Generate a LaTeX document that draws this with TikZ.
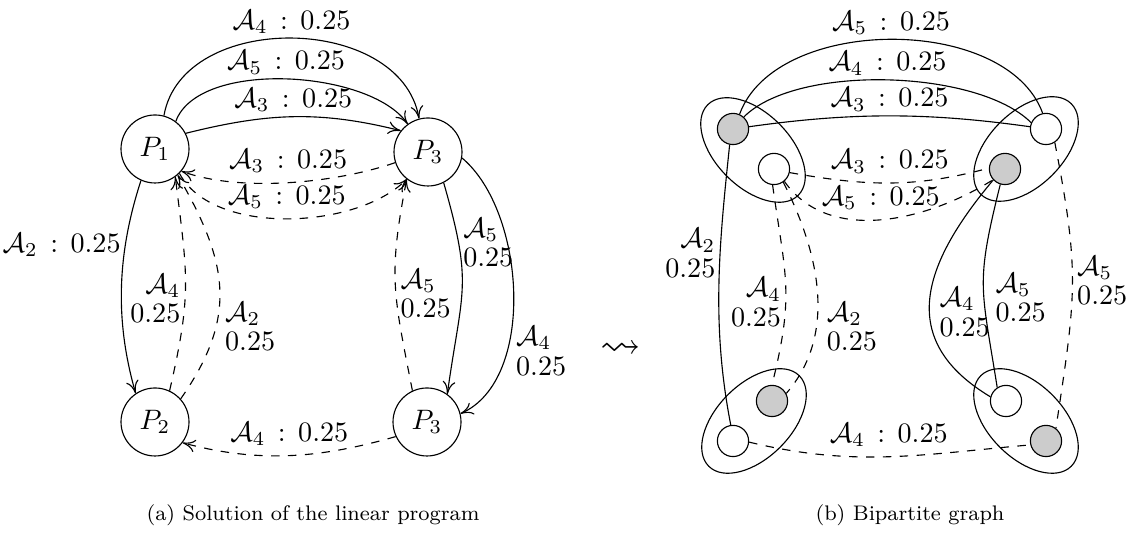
\documentclass[tikz,border=0pt]{standalone}
\usepackage{amsmath,amssymb}
\usetikzlibrary{arrows,arrows.meta,shapes.geometric}
\definecolor{busygray}{RGB}{204,204,204}

\begin{document}
\begin{tikzpicture}[x=0.125mm,y=0.125mm, >={To[length=4.5pt,width=4.5pt]},
    proc/.style={draw, circle, minimum size=8.5mm, inner sep=0pt},
    task/.style={draw, circle, fill=white, minimum size=3.9mm, inner sep=0pt},
    busy/.style={task, fill=busygray},
    pair/.style={draw, ellipse, minimum width=16mm, minimum height=9.25mm, inner sep=0pt},
    top/.style={above, inner sep=1.5pt},
    lbl/.style={inner sep=1.5pt, align=left},
    lblr/.style={inner sep=1.5pt, align=right}]
\useasboundingbox (0,0) rectangle (1133,556);

\node[proc] (p1)  at (155,407) {$P_1$};
\node[proc] (p3t) at (428,404) {$P_3$};
\node[proc] (p2)  at (155,134) {$P_2$};
\node[proc] (p3b) at (427,134) {$P_3$};

\draw[->] (p1.75) to[out=80,in=100,looseness=1.07] node[top] {$\mathcal{A}_4\,:\,0.25$} (p3t.105);
\draw[->] (p1.53) to[out=70,in=125,looseness=0.73] node[top] {$\mathcal{A}_5\,:\,0.25$} (p3t.126);
\draw[->] (p1.27) to[out=14,in=166,looseness=1]    node[top] {$\mathcal{A}_3\,:\,0.25$} (p3t.142);
\draw[->,dashed] (p3t.198) to[out=199,in=340,looseness=0.75] node[above] {$\mathcal{A}_3\,:\,0.25$} (p1.320);
\draw[->,dashed] (p1.-45)  to[out=-62,in=225,looseness=0.8] node[above] {$\mathcal{A}_5\,:\,0.25$} (p3t.232);
\draw[->] (p1.246) to[out=252,in=106,looseness=0.92] node[left,pos=.3,inner sep=1.5pt] {$\mathcal{A}_2\,:\,0.25$} (p2.124);
\draw[->,dashed] (p2.65) to[out=77,in=277,looseness=1.2] node[lblr,left,pos=.42] {$\mathcal{A}_4$\\[-1.5pt]$0.25$} (p1.306);
\draw[->,dashed] (p2.42) to[out=55,in=300,looseness=1.15] node[lbl,right,pos=.32,inner sep=3pt] {$\mathcal{A}_2$\\[-1.5pt]$0.25$} (p1.311);
\draw[->,dashed] (p3b.115) to[out=101,in=259,looseness=1.2] node[lbl,right,pos=.45] {$\mathcal{A}_5$\\[-1.5pt]$0.25$} (p3t.232);
\draw[->] (p3t.297) to[out=-74,in=82,looseness=1.3]  node[lbl,right,pos=.24] {$\mathcal{A}_5$\\[-1.5pt]$0.25$} (p3b.54);
\draw[->] (p3t.-10) to[out=-40,in=24,looseness=0.83] node[lbl,right,pos=.69,inner sep=3pt] {$\mathcal{A}_4$\\[-1.5pt]$0.25$} (p3b.14);
\draw[->,dashed] (p3b.205) to[out=196,in=-15,looseness=0.95] node[above] {$\mathcal{A}_4\,:\,0.25$} (p2.-37);

\node (to) at (621,206) {\Large$\leadsto$};

\node[pair,rotate=-45] (g1) at (753,406) {};
\node[pair,rotate=45]  (g2) at (1026,407) {};
\node[pair,rotate=45]  (g3) at (754,135) {};
\node[pair,rotate=-45] (g4) at (1026,135) {};
\node[busy] (tlg) at (733,427) {};
\node[task] (tlw) at (774,387) {};
\node[task] (trw) at (1046,427) {};
\node[busy] (trg) at (1005,387) {};
\node[busy] (blg) at (772,155) {};
\node[task] (blw) at (733,115) {};
\node[task] (brw) at (1006,155) {};
\node[busy] (brg) at (1046,115) {};

\draw (tlg.66) to[out=70,in=110,looseness=0.89] node[top] {$\mathcal{A}_5\,:\,0.25$} (trw.102);
\draw (tlg.48) to[out=45,in=135,looseness=0.67] node[top] {$\mathcal{A}_4\,:\,0.25$} (trw.157);
\draw (tlg.8)  to[out=8,in=172,looseness=0.95]  node[top] {$\mathcal{A}_3\,:\,0.25$} (trw.172);
\draw[dashed] (tlw.-13) to[out=-10,in=195,looseness=1]    node[above] {$\mathcal{A}_3\,:\,0.25$} (trg.177);
\draw[dashed] (tlw.-50) to[out=-55,in=212,looseness=0.95] node[above] {$\mathcal{A}_5\,:\,0.25$} (trg.222);
\draw (tlg.258) to[out=264,in=101,looseness=0.93] node[lblr,left,pos=.38] {$\mathcal{A}_2$\\[-1.5pt]$0.25$} (blw.98);
\draw[dashed] (tlw.265) to[out=-82,in=76,looseness=1.2]  node[lblr,left,pos=.6]  {$\mathcal{A}_4$\\[-1.5pt]$0.25$} (blg.90);
\draw[dashed] (tlw.-55) to[out=-63,in=49,looseness=0.95] node[lbl,right,pos=.66,inner sep=3.5pt] {$\mathcal{A}_2$\\[-1.5pt]$0.25$} (blg.28);
\draw (trg.223) to[out=230,in=149,looseness=1.3] node[lbl,right,pos=.56,inner sep=3.5pt] {$\mathcal{A}_4$\\[-1.5pt]$0.25$} (brw.165);
\draw (trg.253) to[out=256,in=99,looseness=1.3]   node[lbl,right,pos=.58,inner sep=4pt] {$\mathcal{A}_5$\\[-1.5pt]$0.25$} (brw.123);
\draw[dashed] (trw.-57) to[out=-79,in=81.5,looseness=1.2] node[lbl,right,pos=.48] {$\mathcal{A}_5$\\[-1.5pt]$0.25$} (brg.52);
\draw[dashed] (blw.-4) to[out=-13.5,in=185,looseness=1] node[above] {$\mathcal{A}_4\,:\,0.25$} (brg.194);

\node[font=\fontsize{7.5pt}{9pt}\selectfont] (capa) at (313,41) {(a) Solution of the linear program};
\node[font=\fontsize{7.5pt}{9pt}\selectfont] (capb) at (910,41) {(b) Bipartite graph};
\end{tikzpicture}
\end{document}
